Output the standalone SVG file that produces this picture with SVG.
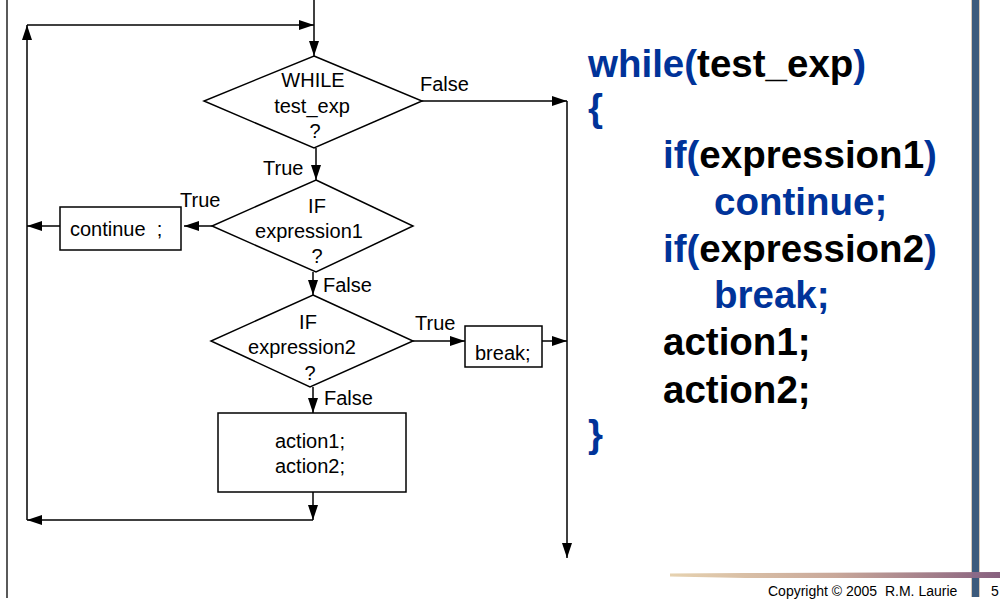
<svg xmlns="http://www.w3.org/2000/svg" width="1000" height="608" viewBox="0 0 1000 608">
<defs>
<marker id="arr" markerUnits="userSpaceOnUse" markerWidth="15" markerHeight="10" refX="15" refY="5" orient="auto">
<path d="M0,0 L15,5 L0,10 z" fill="#000"/>
</marker>
<linearGradient id="hbar" x1="0" y1="0" x2="1" y2="0">
<stop offset="0" stop-color="#e6d2b0"/>
<stop offset="0.5" stop-color="#c9a89a"/>
<stop offset="1" stop-color="#87607f"/>
</linearGradient>
</defs>
<style>
.shape{fill:#fff;stroke:#000;stroke-width:1.5}
.ln{fill:none;stroke:#000;stroke-width:1.5}
.ar{fill:none;stroke:#000;stroke-width:1.5;marker-end:url(#arr)}
.t{font-family:"Liberation Sans",Arial,sans-serif;font-size:20px;fill:#000}
.c{font-family:"Liberation Sans",Arial,sans-serif;font-size:38.5px;font-weight:bold;fill:#000}
.b{fill:#003399}
.f{font-family:"Liberation Sans",Arial,sans-serif;font-size:14px;fill:#000}
</style>
<rect width="1000" height="608" fill="#fff"/>
<line x1="7" y1="0" x2="7" y2="598" stroke="#000" stroke-width="1.3"/>
<g id="decor">
<rect x="972" y="0" width="7" height="597" fill="#3c5a7c"/>
<line x1="971.5" y1="0" x2="971.5" y2="597" stroke="#d8c8b8" stroke-width="1"/>
<line x1="979.5" y1="0" x2="979.5" y2="597" stroke="#d8c8b8" stroke-width="1"/>
<path d="M670,573.5 L745,573 L1000,572 L1000,578 L745,578 L670,576.5 z" fill="url(#hbar)"/>
<rect x="972" y="572" width="7" height="6" fill="#8a6a88"/>
</g>
<g id="connectors">
<line class="ar" x1="314" y1="0" x2="314" y2="56"/>
<line class="ar" x1="422" y1="101" x2="567" y2="101"/>
<line class="ar" x1="567" y1="101" x2="567" y2="558"/>
<line class="ar" x1="316" y1="148" x2="316" y2="180"/>
<line class="ar" x1="212" y1="226" x2="184" y2="226"/>
<line class="ar" x1="60" y1="226" x2="27" y2="226"/>
<line class="ar" x1="313" y1="272" x2="313" y2="295"/>
<line class="ar" x1="413" y1="341" x2="465" y2="341"/>
<line class="ar" x1="542" y1="341" x2="567" y2="341"/>
<line class="ar" x1="313" y1="387" x2="313" y2="413"/>
<line class="ar" x1="313" y1="492" x2="313" y2="520"/>
<line class="ar" x1="313" y1="520" x2="27" y2="520"/>
<line class="ar" x1="27" y1="520" x2="27" y2="25"/>
<line class="ar" x1="27" y1="25" x2="314" y2="25"/>
</g>
<g id="labels">
<text class="t" x="420" y="91">False</text>
<text class="t" x="263" y="175">True</text>
<text class="t" x="180" y="207">True</text>
<text class="t" x="323" y="292">False</text>
<text class="t" x="415" y="330">True</text>
<text class="t" x="324" y="405">False</text>
</g>
<g id="while">
<polygon class="shape" points="314,56 422,101 314,148 204,101"/>
<text class="t" text-anchor="middle" x="313" y="87">WHILE</text>
<text class="t" text-anchor="middle" x="312" y="113">test_exp</text>
<text class="t" text-anchor="middle" x="315" y="138">?</text>
</g>
<g id="if1">
<polygon class="shape" points="316,180 413,226 316,272 212,226"/>
<text class="t" text-anchor="middle" x="317" y="213">IF</text>
<text class="t" text-anchor="middle" x="309" y="238">expression1</text>
<text class="t" text-anchor="middle" x="317" y="263">?</text>
</g>
<g id="continue">
<rect class="shape" x="60" y="207" width="121" height="43"/>
<text class="t" x="70" y="236" xml:space="preserve">continue  ;</text>
</g>
<g id="if2">
<polygon class="shape" points="313,295 413,341 310,387 211,341"/>
<text class="t" text-anchor="middle" x="308" y="329">IF</text>
<text class="t" text-anchor="middle" x="302" y="354">expression2</text>
<text class="t" text-anchor="middle" x="310" y="380">?</text>
</g>
<g id="break">
<rect class="shape" x="465" y="326" width="77" height="41"/>
<text class="t" x="475" y="360">break;</text>
</g>
<g id="action">
<rect class="shape" x="218" y="413" width="188" height="79"/>
<text class="t" text-anchor="middle" x="310" y="448">action1;</text>
<text class="t" text-anchor="middle" x="310" y="473">action2;</text>
</g>
<g id="code">
<text class="c" x="588" y="77"><tspan class="b">while(</tspan>test_exp<tspan class="b">)</tspan></text>
<text class="c b" x="588" y="121">{</text>
<text class="c" x="663" y="168"><tspan class="b">if(</tspan>expression1<tspan class="b">)</tspan></text>
<text class="c b" x="714" y="215">continue;</text>
<text class="c" x="663" y="262"><tspan class="b">if(</tspan>expression2<tspan class="b">)</tspan></text>
<text class="c b" x="714" y="308">break;</text>
<text class="c" x="663" y="355">action1;</text>
<text class="c" x="663" y="403">action2;</text>
<text class="c b" x="588" y="447">}</text>
</g>
<g id="footer">
<text class="f" x="768" y="596" xml:space="preserve">Copyright © 2005  R.M. Laurie</text>
<text class="f" x="991" y="596">5</text>
</g>
</svg>
